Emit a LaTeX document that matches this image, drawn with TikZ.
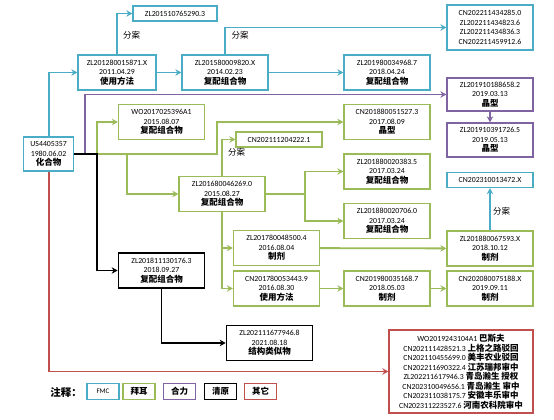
\documentclass[tikz,border=0pt]{standalone}
\usepackage{fontspec}
\setmainfont{Carlito}
\newfontfamily\cjk{Noto Sans CJK SC}
\usetikzlibrary{arrows.meta,calc}
\definecolor{fmcblue}{RGB}{75,172,198}
\definecolor{bayergreen}{RGB}{155,187,89}
\definecolor{helipurple}{RGB}{128,100,162}
\definecolor{otherred}{RGB}{192,80,77}
\newcommand{\zh}[1]{{\cjk\bfseries\fontsize{8.5}{9.5}\selectfont #1}}
\newcommand{\pat}[3]{#1\\#2\\\zh{#3}}

\begin{document}
\begin{tikzpicture}[x=1pt,y=-1pt,
    box/.style={draw,line width=1.3pt,fill=white,align=center,inner sep=1pt,
        minimum width=86pt,minimum height=35pt,font=\fontsize{7.8}{9.5}\selectfont},
    fmc/.style={box,draw=fmcblue},
    bayer/.style={box,draw=bayergreen},
    heli/.style={box,draw=helipurple},
    qingyuan/.style={box,draw=black,line width=1.7pt},
    slim/.style={minimum height=15pt},
    legendbox/.style={box,minimum width=32pt,minimum height=16pt},
    splitlabel/.style={font=\cjk\fontsize{8.5}{9.5}\selectfont},
    conn/.style={line width=1.8pt,-{Stealth[length=6pt,width=6.5pt]}}]
    \useasboundingbox (0,0) rectangle (554,420);

    % FMC
    \node[fmc,minimum width=50pt,minimum height=34pt] (us) at (48.6,154) {\pat{US4405357}{1980.06.02}{化合物}};
    \node[fmc,minimum width=78pt] (zl12) at (117,72.5) {\pat{ZL201280015871.X}{2011.04.29}{使用方法}};
    \node[fmc] (zl15a) at (225,72.5) {\pat{ZL201580009820.X}{2014.02.23}{复配组合物}};
    \node[fmc,slim,minimum width=84pt] (zl15b) at (175,13.5) {ZL201510765290.3};
    \node[fmc] (zl19a) at (387,72.5) {\pat{ZL201980034968.7}{2018.04.24}{复配组合物}};
    \node[fmc,minimum height=45pt] (cn22) at (490,27.5) {CN202211434285.0\\ZL202211434823.6\\ZL202211434836.3\\CN202211459912.6};
    \node[fmc,slim] (cn23) at (490,180) {CN202310013472.X};

    % 合力
    \node[heli,minimum height=33pt] (zl19b) at (490,94.5) {\pat{ZL201910188658.2}{2019.03.13}{晶型}};
    \node[heli,minimum height=34pt] (zl19c) at (490,140) {\pat{ZL201910391726.5}{2019.05.13}{晶型}};

    % 拜耳
    \node[bayer] (wo17) at (161.5,122) {\pat{WO2017025396A1}{2015.08.07}{复配组合物}};
    \node[bayer] (cn18a) at (387,122) {\pat{CN201880051527.3}{2017.08.09}{晶型}};
    \node[bayer,slim] (cn21) at (279,139.5) {CN202111204222.1};
    \node[bayer] (zl18b) at (387,171.5) {\pat{ZL201880020383.5}{2017.03.24}{复配组合物}};
    \node[bayer] (zl16) at (222,194) {\pat{ZL201680046269.0}{2015.08.27}{复配组合物}};
    \node[bayer] (zl18c) at (387,221) {\pat{ZL201880020706.0}{2017.03.24}{复配组合物}};
    \node[bayer] (zl17) at (276.5,248) {\pat{ZL201780048500.4}{2016.08.04}{制剂}};
    \node[bayer] (zl18e) at (490,248.5) {\pat{ZL201880067593.X}{2018.10.12}{制剂}};
    \node[bayer] (cn17) at (276.5,288.5) {\pat{CN201780053443.9}{2016.08.30}{使用方法}};
    \node[bayer] (cn19) at (387,288.5) {\pat{CN201980035168.7}{2018.05.03}{制剂}};
    \node[bayer] (cn20) at (490,288.5) {\pat{CN202080075188.X}{2019.09.11}{制剂}};

    % 清原
    \node[qingyuan] (zl18d) at (161.5,270.5) {\pat{ZL201811130176.3}{2018.09.27}{复配组合物}};
    \node[qingyuan] (zl21) at (269.5,343) {\pat{ZL202111677946.8}{2021.08.18}{结构类似物}};

    % 其它
    \node[box,draw=otherred,minimum width=144pt,minimum height=83pt] (others) at (461,371.5)
        {WO2019243104A1 \zh{巴斯夫}\\CN202111428521.3 \zh{上格之路驳回}\\CN202110455699.0 \zh{美丰农业驳回}\\
         CN202211690322.4 \zh{江苏瑞邦审中}\\ZL202211617946.3 \zh{青岛瀚生 授权}\\CN202310049656.1 \zh{青岛瀚生 审中}\\
         CN202311038175.7 \zh{安徽丰乐审中}\\CN202311223527.6 \zh{河南农科院审中}};

    % connectors
    \draw[conn,fmcblue] (us.north) |- (zl12.west);
    \draw[conn,fmcblue] (zl12) -- (zl15a);
    \draw[conn,fmcblue] (zl12.north) |- (zl15b.west);
    \draw[conn,fmcblue] (zl15a.north) |- (cn22.west);
    \draw[conn,fmcblue] (zl15a) -- (zl19a);
    \draw[conn,fmcblue] (zl18e) -- (cn23);
    \draw[conn,helipurple] (us.east) -- ++(10.5,0) |- (zl19b.west);
    \draw[conn,helipurple] (zl19b) -- (zl19c);
    \draw[conn,bayergreen] (us.east) -- ++(22.5,0) |- (wo17.west);
    \draw[conn,bayergreen] (us.east) -- ++(142.5,0) |- (cn18a.west);
    \draw[conn,bayergreen] (us.east) -- ++(53,0) |- (zl16.west);
    \draw[conn,bayergreen] (zl16.north) |- (cn21.west);
    \draw[conn,bayergreen] (zl16.east) -- ++(39.6,0) |- (zl18b.west);
    \draw[conn,bayergreen] (zl16.east) -- ++(39.6,0) |- (zl18c.west);
    \draw[conn,bayergreen] (zl16.south) |- (zl17.west);
    \draw[conn,bayergreen] (zl16.south) |- (cn17.west);
    \draw[conn,bayergreen] (zl17) -- (zl18e);
    \draw[conn,bayergreen] (cn17) -- (cn19);
    \draw[conn,bayergreen] (cn19) -- (cn20);
    \draw[conn,black] (us.east) -- ++(22.5,0) |- (zl18d.west);
    \draw[conn,black] (zl18d.south) |- (zl21.west);
    \draw[conn,otherred] (us.south) |- (others.west);

    % labels
    \node[splitlabel] (split1) at (131.5,35) {分案};
    \node[splitlabel] (split2) at (240,35) {分案};
    \node[splitlabel] (split3) at (236.5,152.5) {分案};
    \node[splitlabel] (split4) at (501.5,211) {分案};

    % legend
    \node (note) at (66,392) {{\cjk\bfseries\fontsize{10.5}{12}\selectfont 注释：}};
    \node[legendbox,draw=fmcblue] (leg1) at (103,391.5) {\fontsize{7}{8}\selectfont FMC};
    \node[legendbox,draw=bayergreen] (leg2) at (139,391.5) {\zh{拜耳}};
    \node[legendbox,draw=helipurple] (leg3) at (179.5,391.5) {\zh{合力}};
    \node[legendbox,draw=black,line width=1.7pt] (leg4) at (220.5,391.5) {\zh{清原}};
    \node[legendbox,draw=otherred] (leg5) at (260.5,391.5) {\zh{其它}};
\end{tikzpicture}
\end{document}
